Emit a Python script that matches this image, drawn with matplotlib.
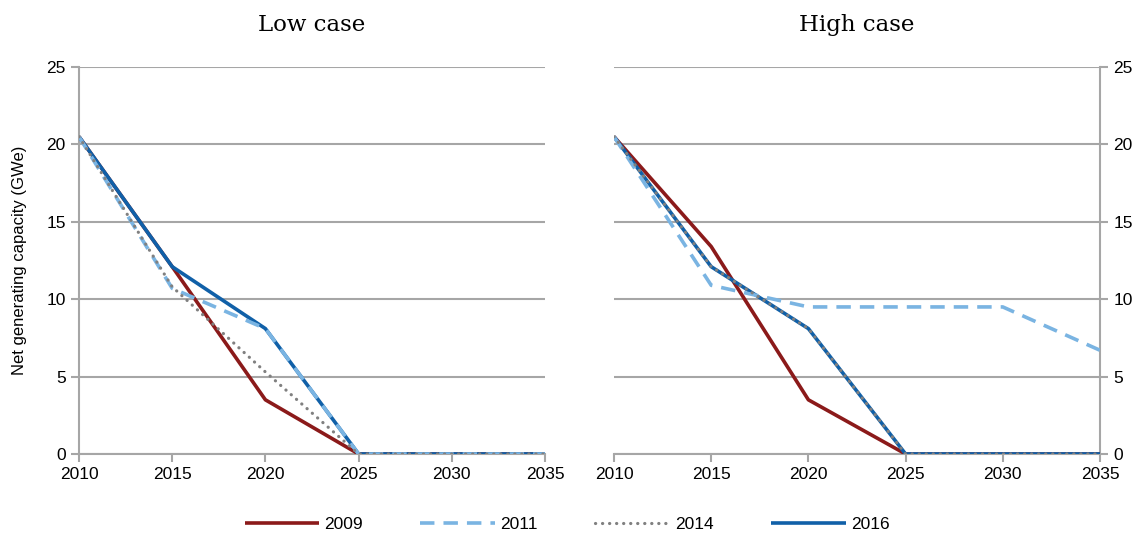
import matplotlib
matplotlib.use("Agg")
import matplotlib.pyplot as plt

years = [2010, 2015, 2020, 2025, 2030, 2035]
series_names = ["2009", "2011", "2014", "2016"]

low_2009 = [20.5, 12.1, 3.5, 0, 0, 0]
low_2011 = [20.5, 10.7, 8.1, 0, 0, 0]
low_2014 = [20.5, 10.8, 5.3, 0, 0, 0]
low_2016 = [20.5, 12.1, 8.1, 0, 0, 0]

high_2009 = [20.5, 13.4, 3.5, 0, 0, 0]
high_2011 = [20.5, 10.9, 9.5, 9.5, 9.5, 6.7]
high_2014 = [20.5, 12.1, 8.1, 0, 0, 0]
high_2016 = [20.5, 12.1, 8.1, 0, 0, 0]

titles = ["Low case", "High case"]
ylabel = "Net generating capacity (GWe)"

styles = {
    "2009": dict(color="#8B1A1A", lw=2.6, ls="-", zorder=3),
    "2011": dict(color="#7AB4E2", lw=2.6, ls=(0, (4, 2.5)), zorder=5),
    "2014": dict(color="#808080", lw=2.3, ls=(0, (0.05, 2.15)), dash_capstyle="round", zorder=6),
    "2016": dict(color="#1060A8", lw=2.6, ls="-", zorder=4),
}

plt.rcParams['font.family'] = ['Liberation Sans', 'DejaVu Sans']
fig = plt.figure(figsize=(11.37, 5.34), dpi=100)
ax1 = fig.add_axes([79/1137, 1-454/534, (545-79)/1137, (454-67)/534])
ax2 = fig.add_axes([614/1137, 1-454/534, (1100-614)/1137, (454-67)/534])

data = [
    {"2009": low_2009, "2011": low_2011, "2014": low_2014, "2016": low_2016},
    {"2009": high_2009, "2011": high_2011, "2014": high_2014, "2016": high_2016},
]

handles = {}
for ax, d, title in zip([ax1, ax2], data, titles):
    for name in series_names:
        line, = ax.plot(years, d[name], label=name, solid_capstyle="butt", **styles[name])
        handles[name] = line
    ax.set_xlim(2010, 2035)
    ax.set_ylim(0, 25)
    ax.set_xticks(years)
    ax.set_yticks([0, 5, 10, 15, 20, 25])
    ax.grid(axis="y", color="#A6A6A6", lw=1.5)
    ax.set_axisbelow(True)
    for s in ["top", "right", "left", "bottom"]:
        ax.spines[s].set_visible(False)
    ax.tick_params(axis="both", labelsize=12.5, color="#A6A6A6", length=6, width=1.5)
    ax.set_title(title, family="DejaVu Serif", fontsize=16.5, pad=26)

ax1.spines["left"].set_visible(True)
ax1.spines["bottom"].set_visible(True)
ax1.spines["left"].set_color("#A6A6A6")
ax1.spines["bottom"].set_color("#A6A6A6")
ax1.spines["left"].set_linewidth(1.5)
ax1.spines["bottom"].set_linewidth(1.5)
ax1.set_ylabel(ylabel, fontsize=12, labelpad=14)

ax2.spines["right"].set_visible(True)
ax2.spines["bottom"].set_visible(True)
ax2.spines["right"].set_color("#A6A6A6")
ax2.spines["bottom"].set_color("#A6A6A6")
ax2.spines["right"].set_linewidth(1.5)
ax2.spines["bottom"].set_linewidth(1.5)
ax2.yaxis.tick_right()
ax2.tick_params(axis="y", left=False, right=True, labelleft=False, labelright=True)

fig.legend([handles[n] for n in series_names], series_names, loc="center",
           bbox_to_anchor=(567/1137, 1-524/534), ncol=4, frameon=False, fontsize=12.5,
           handlelength=4.3, columnspacing=3.3, handletextpad=0.3)

fig.savefig("out.png", dpi=100)
